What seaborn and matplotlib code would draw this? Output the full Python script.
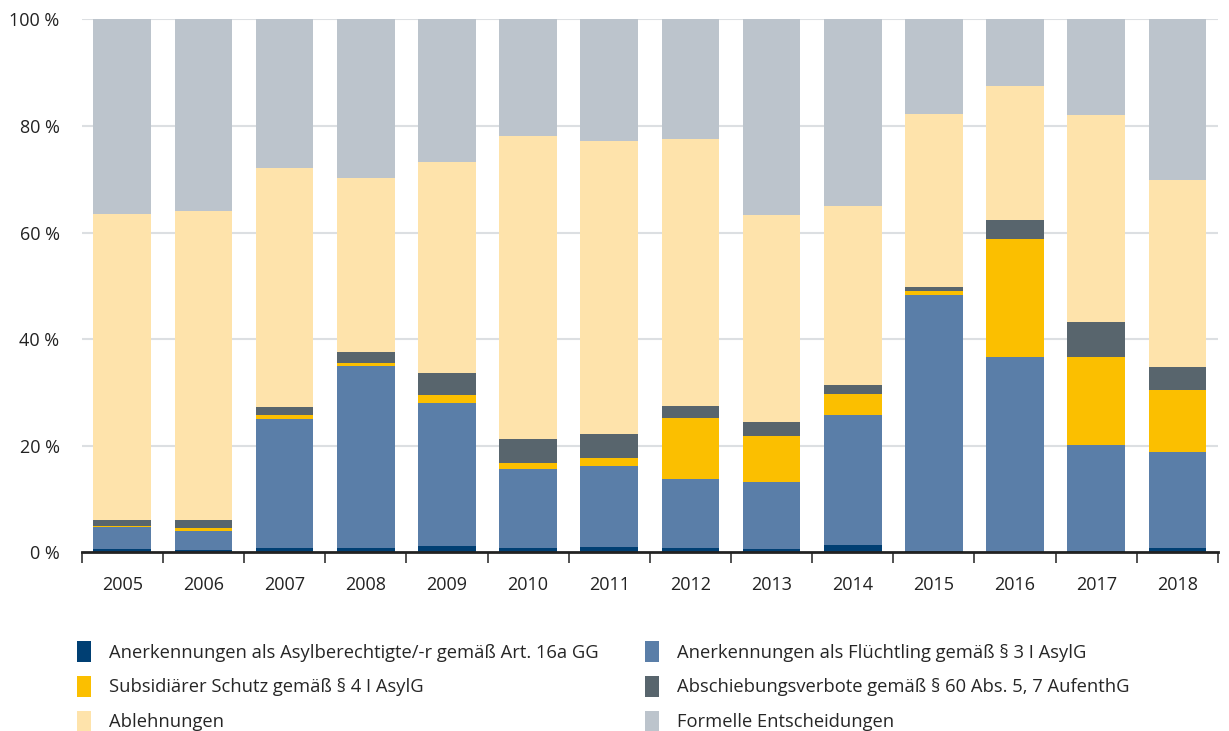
import numpy as np
import pandas as pd
import matplotlib
matplotlib.use("Agg")
import matplotlib.pyplot as plt
from matplotlib.patches import Patch
import seaborn as sns

# Anteile der Entscheidungsarten an allen Asylentscheidungen (in %)
years = ["2005", "2006", "2007", "2008", "2009", "2010", "2011",
         "2012", "2013", "2014", "2015", "2016", "2017", "2018"]
asylberechtigte = [0.7, 0.5, 0.8, 0.8, 1.2, 0.8, 1.0, 0.8, 0.7, 1.4, 0.3, 0.1, 0.3, 0.8]
fluechtling = [4.0, 3.4, 24.2, 34.2, 26.8, 14.9, 15.1, 13.0, 12.4, 24.3, 48.0, 36.5, 19.9, 18.0]
subsidiaer = [0.3, 0.6, 0.8, 0.5, 1.5, 1.1, 1.6, 11.4, 8.7, 4.0, 0.7, 22.2, 16.5, 11.7]
abschiebungsverbote = [1.1, 1.5, 1.5, 2.1, 4.2, 4.4, 4.4, 2.3, 2.7, 1.6, 0.7, 3.6, 6.5, 4.3]
ablehnungen = [57.4, 58.0, 44.8, 32.6, 39.5, 57.0, 55.0, 50.1, 38.8, 33.6, 32.5, 25.1, 38.8, 35.1]
formelle = [36.5, 36.0, 27.9, 29.8, 26.8, 21.8, 22.9, 22.4, 36.7, 35.1, 17.8, 12.5, 18.0, 30.1]

labels = [
    "Anerkennungen als Asylberechtigte/-r gemäß Art. 16a GG",
    "Anerkennungen als Flüchtling gemäß § 3 I AsylG",
    "Subsidiärer Schutz gemäß § 4 I AsylG",
    "Abschiebungsverbote gemäß § 60 Abs. 5, 7 AufenthG",
    "Ablehnungen",
    "Formelle Entscheidungen",
]
colors = ["#003f73", "#5a7ea8", "#fbbf00", "#58656d", "#fee3ab", "#bcc4cc"]
series = [asylberechtigte, fluechtling, subsidiaer, abschiebungsverbote,
          ablehnungen, formelle]

sns.set_theme(style="white")
plt.rcParams["font.family"] = ["Open Sans", "DejaVu Sans"]

fig = plt.figure(figsize=(12.29, 7.31), dpi=100)
ax = fig.add_axes([0.0665, 0.2445, 0.9245, 0.729])

# Stacked bars: draw cumulative totals from the top layer down
cum = np.cumsum(np.array(series), axis=0)
for i in range(len(series) - 1, -1, -1):
    df = pd.DataFrame({"Jahr": years, "Anteil": cum[i]})
    sns.barplot(data=df, x="Jahr", y="Anteil", color=colors[i], saturation=1,
                width=0.71, errorbar=None, ax=ax, linewidth=0, zorder=2)

ax.set_xlim(-0.5, len(years) - 0.5)
ax.set_ylim(0, 100)
ax.set_xlabel("")
ax.set_ylabel("")

# Gridlines and axis styling
ax.set_yticks([0, 20, 40, 60, 80, 100])
ax.set_yticklabels([f"{v} %" for v in [0, 20, 40, 60, 80, 100]])
for v in [20, 40, 60, 80, 100]:
    ax.axhline(v, color="#dcdfe2", lw=1.5, zorder=1)
ax.tick_params(axis="y", length=0, pad=16, labelsize=13, labelcolor="#222222")
ax.tick_params(axis="x", which="major", length=0, pad=17, labelsize=13,
               labelcolor="#222222")
ax.set_xticks(np.arange(-0.5, len(years)), minor=True)
ax.tick_params(axis="x", which="minor", length=8, width=1.2, color="#333333",
               direction="out", bottom=True)
for side in ["left", "right", "top"]:
    ax.spines[side].set_visible(False)
ax.spines["bottom"].set_color("#222222")
ax.spines["bottom"].set_linewidth(2)
ax.spines["bottom"].set_zorder(5)
ax.grid(False)

# Legend in two columns below the chart
order = [0, 2, 4, 1, 3, 5]
handles = [Patch(facecolor=colors[i], edgecolor="none", label=labels[i]) for i in order]
fig.legend(handles=handles, loc="upper left", bbox_to_anchor=(0.057, 0.133),
           ncol=2, frameon=False, fontsize=13.2, handlelength=0.75,
           handleheight=1.35, handletextpad=1.0, columnspacing=2.5,
           labelspacing=0.78, borderaxespad=0)

fig.savefig("out.png", dpi=100)
